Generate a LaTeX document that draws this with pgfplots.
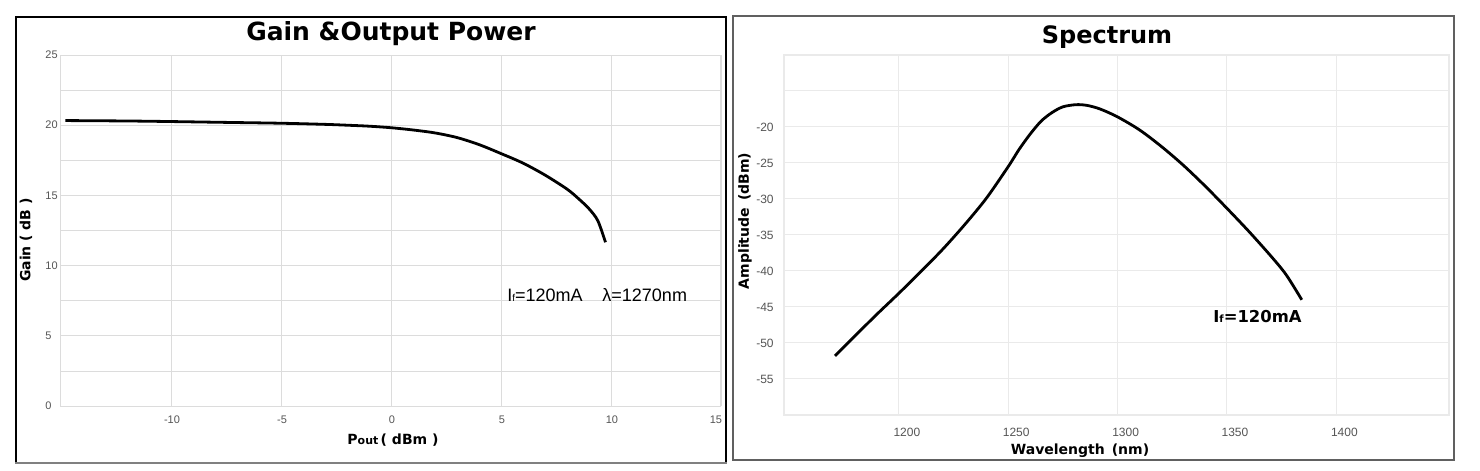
\documentclass[border=0pt]{standalone}
\usepackage{fontspec}
\setmainfont{Liberation Sans}
\newfontfamily\dejavu{DejaVu Sans}
\usepackage{pgfplots}
\pgfplotsset{compat=1.18}
\definecolor{gridc}{HTML}{DCDCDC}
\definecolor{gridr}{HTML}{EAEAEA}
\definecolor{tickc}{HTML}{555555}
\definecolor{frameR}{HTML}{606060}
\begin{document}
\begin{tikzpicture}
\path[use as bounding box] (0,0) rectangle (740pt,-235.5pt);
\fill[white] (0,0) rectangle (740pt,-235.5pt);
% frames
\draw[black, line width=1pt] (8pt,-231.5pt) -- (8pt,-8.5pt) -- (363pt,-8.5pt) -- (363pt,-231.5pt);
\draw[gray, line width=1.2pt] (7.5pt,-231.5pt) -- (363.5pt,-231.5pt);
\draw[frameR, line width=1pt] (366.5pt,-8pt) rectangle (727pt,-230pt);
% ---------- left axis ----------
\begin{axis}[
  at={(30.5pt,-27.5pt)}, anchor=north west,
  scale only axis, width=330pt, height=175.5pt,
  xmin=-15, xmax=15, ymin=0, ymax=25,
  xtick={-10,-5,0,5,10,15}, xticklabels={-10,-5,0,5,10,\llap{15}},
  ytick={0,5,10,15,20,25}, yticklabels={0,5,10,15,20,25},
  minor ytick={2.5,7.5,12.5,17.5,22.5},
  grid=both,
  major grid style={gridc, line width=0.4pt},
  minor grid style={gridc, line width=0.4pt},
  axis line style={gridc, line width=0.5pt},
  major tick length=0pt, minor tick length=0pt,
  tick label style={font=\fontsize{5.5}{6}\selectfont, text=tickc},
  xticklabel style={anchor=center, yshift=-7pt, xshift=0.5pt},
  yticklabel style={anchor=west, inner sep=0pt, xshift=-8pt},
  clip=false,
]
\addplot[black, line width=1.4pt, smooth] coordinates {
(-14.8,20.33) (-12,20.3) (-10,20.26) (-7.5,20.2) (-5,20.14) (-3,20.06)
(-2,20.0) (-1,19.93) (0,19.82) (1,19.66) (2,19.45) (3,19.12) (4,18.62)
(5,17.98) (6,17.3) (7,16.45) (8,15.45) (8.5,14.8) (9,14.05) (9.4,13.2) (9.75,11.66)
};
\node[anchor=west, inner sep=0pt, font=\fontsize{9}{10}\selectfont] at (axis cs:5.27,7.9)
  {I{\fontsize{5}{5}\selectfont f}=120mA\hspace{1.1em}λ=1270nm};
\end{axis}
% ---------- right axis ----------
\begin{axis}[
  at={(392pt,-27.5pt)}, anchor=north west,
  scale only axis, width=332.5pt, height=180pt,
  xmin=1147.5, xmax=1451.5, ymin=-60, ymax=-10,
  xtick={1200,1250,1300,1350,1400}, xticklabels={1200,1250,1300,1350,1400},
  ytick={-55,-50,-45,-40,-35,-30,-25,-20,-15},
  yticklabels={-55,-50,-45,-40,-35,-30,-25,-20,{}},
  grid=major,
  major grid style={gridr, line width=0.5pt},
  axis line style={gridr, line width=0.6pt},
  major tick length=0pt,
  tick label style={font=\fontsize{6}{7}\selectfont, text=tickc},
  xticklabel style={anchor=center, yshift=-8.5pt, xshift=4pt},
  yticklabel style={anchor=east, inner sep=0pt, xshift=-5pt},
  clip=false,
]
\addplot[black, line width=1.4pt, smooth] coordinates {
(1170.8,-51.8) (1180,-49.0) (1190,-46.0) (1200,-43.1) (1210,-40.1) (1220,-37.0)
(1230,-33.6) (1240,-29.9) (1250,-25.5) (1255,-23.1) (1260,-21.0) (1265,-19.2)
(1270,-18.0) (1275,-17.2) (1281,-16.9) (1286,-17.0) (1292,-17.5) (1300,-18.6)
(1310,-20.4) (1320,-22.7) (1330,-25.3) (1340,-28.2) (1350,-31.3) (1360,-34.5)
(1370,-37.9) (1377,-40.5) (1384.2,-44.0)
};
\node[anchor=west, inner sep=0pt, font=\dejavu\bfseries\fontsize{8.2}{9}\selectfont] at (axis cs:1343.6,-46.3)
  {I{\fontsize{5}{5}\selectfont f}=120mA};
\end{axis}
% titles and labels
\node[font=\dejavu\bfseries\fontsize{12.5}{15}\selectfont] at (195.5pt,-17pt) {Gain \&Output Power};
\node[font=\dejavu\bfseries\fontsize{12}{15}\selectfont] at (553.5pt,-18.5pt) {Spectrum};
\node[rotate=90, font=\dejavu\bfseries\fontsize{7}{8}\selectfont] at (13pt,-120pt) {Gain ( dB )};
\node[font=\dejavu\bfseries\fontsize{7}{8}\selectfont] at (196.5pt,-220pt) {P{\fontsize{5.5}{6}\selectfont out}\,( dBm )};
\node[font=\dejavu\bfseries\fontsize{7}{8}\selectfont] at (540pt,-225.5pt) {Wavelength\hspace{0.5em}(nm)};
\node[rotate=90, font=\dejavu\bfseries\fontsize{7}{8}\selectfont] at (372.5pt,-110.5pt) {Amplitude\hspace{0.5em}(dBm)};
\end{tikzpicture}
\end{document}
